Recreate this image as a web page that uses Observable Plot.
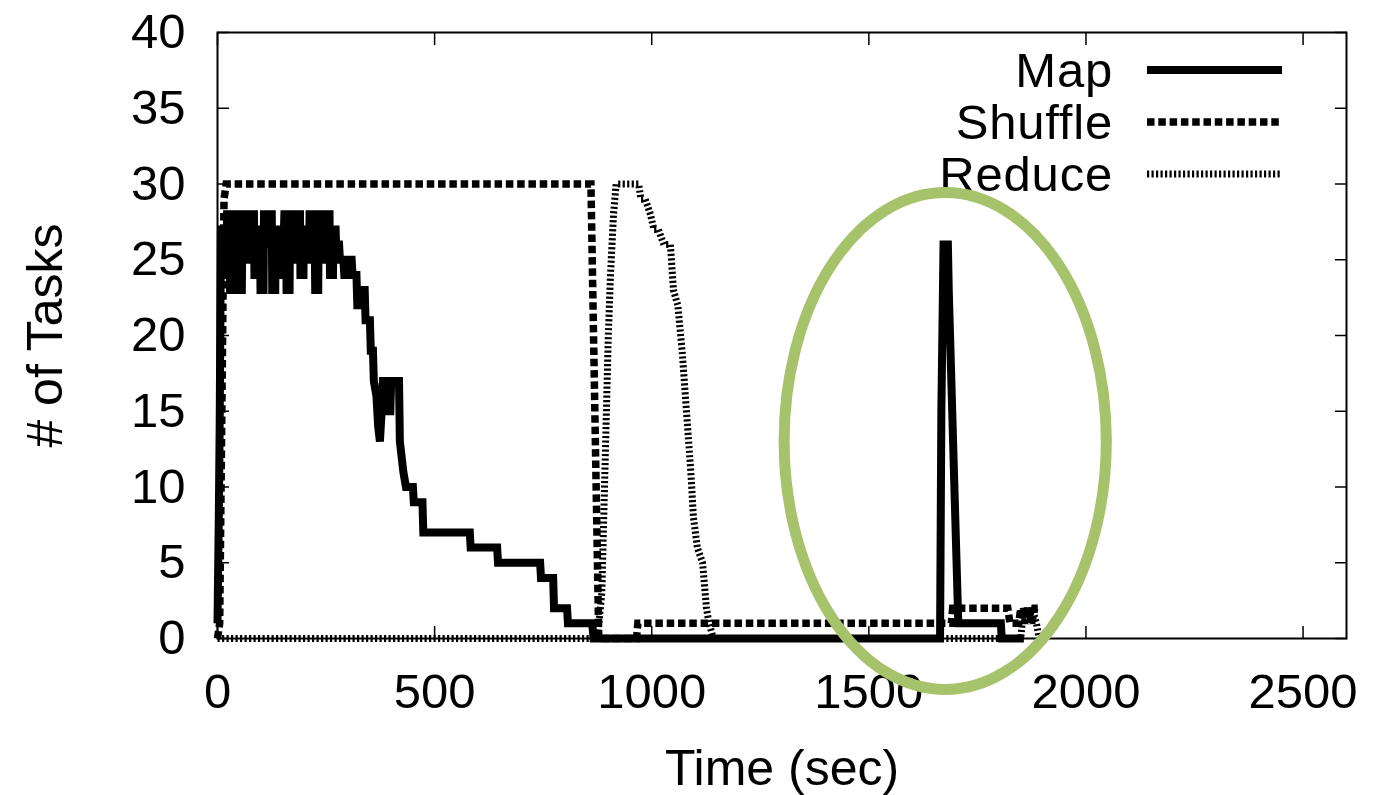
<!DOCTYPE html>
<html>
<head>
<meta charset="utf-8">
<script src="https://cdn.jsdelivr.net/npm/d3@7"></script>
<script src="https://cdn.jsdelivr.net/npm/@observablehq/plot@0.6"></script>
<style>
  html, body { margin: 0; padding: 0; background: #fff; }
  #chart { width: 1374px; height: 795px; }
</style>
</head>
<body>
<div id="chart"></div>
<script>
// ---- data ----
const xTicks = [0, 500, 1000, 1500, 2000, 2500];
const yTicks = [0, 5, 10, 15, 20, 25, 30, 35, 40];
const seriesNames = ["Map", "Shuffle", "Reduce"];

const mapT = [0, 3, 5, 8, 14, 15, 21, 22, 28, 29, 36, 37, 42, 43, 48, 49, 56, 57, 62, 63, 70, 71, 76, 77, 84, 85, 92, 93, 98, 99, 106, 107, 113, 114, 120, 121, 125, 126, 133, 134, 140, 141, 147, 148, 153, 154, 158, 159, 166, 167, 172, 173, 178, 179, 185, 186, 190, 191, 198, 199, 205, 206, 211, 212, 218, 219, 224, 225, 232, 233, 239, 240, 246, 247, 252, 253, 258, 259, 266, 267, 272, 273, 280,
  282, 290, 292, 300, 302, 309, 311, 320, 322, 330, 332, 339, 341, 351, 353, 358, 360, 366, 370, 374, 378, 381, 390, 392, 398, 400, 418, 420, 428, 434, 450, 452, 472, 474, 581, 583, 644, 646, 743, 745, 773, 775, 805, 807, 863, 866,
  1664, 1667, 1672, 1682, 1684, 1706, 1804, 1806, 1857];
const mapV = [1, 8, 14, 27, 27, 24, 24, 28, 28, 23, 23, 27, 27, 28, 28, 23, 23, 26, 26, 28, 28, 25, 25, 28, 28, 24, 24, 27, 27, 23, 23, 28, 28, 26, 26, 28, 28, 23, 23, 27, 27, 24, 24, 27, 27, 28, 28, 23, 23, 28, 28, 25, 25, 27, 27, 28, 28, 24, 24, 27, 27, 25, 25, 28, 28, 26, 26, 23, 23, 28, 28, 25, 25, 27, 27, 28, 28, 24, 24, 27, 27, 26, 26,
  25, 25, 24, 24, 25, 25, 24, 24, 22, 22, 23, 23, 21, 21, 19, 19, 17, 16, 14, 13, 15, 17, 17, 15, 15, 17, 17, 13, 11, 10, 10, 9, 9, 7, 7, 6, 6, 5, 5, 4, 4, 2, 2, 1, 1, 0,
  0, 15, 26, 26, 23, 1, 1, 0, 0];

const shuffleT = [0, 5, 10, 15, 20, 860, 866, 872, 878, 965, 968, 1690, 1693, 1820, 1825, 1845, 1850, 1858, 1866, 1875, 1882, 1890];
const shuffleV = [0, 1, 15, 29, 30, 30, 20, 10, 0, 0, 1, 1, 2, 2, 1, 1, 2, 1, 2, 1, 2, 2];

const reduceT = [0, 875, 885, 893, 900, 905, 912, 918, 970, 975, 985, 997, 1005, 1015, 1028, 1043, 1050, 1060, 1070, 1080, 1090, 1096, 1105, 1117, 1126, 1132, 1142, 1850, 1856, 1866, 1876, 1886, 1892];
const reduceV = [0, 0, 3, 12, 20, 24, 28, 30, 30, 29, 29, 28, 27, 27, 26, 26, 23, 22, 19, 15, 11, 8, 6, 5, 2, 1, 0, 0, 2, 1, 2, 1, 0];

// highlight ellipse annotation (data units)
const ellipseCenterT = 1677, ellipseCenterV = 13;
const ellipseRadiusT = 371, ellipseRadiusV = 16.4;

// ---- build records ----
const toRows = (T, V) => T.map((t, i) => ({t, v: V[i]}));
const mapRows = toRows(mapT, mapV);
const shuffleRows = toRows(shuffleT, shuffleV);
const reduceRows = toRows(reduceT, reduceV);

const styles = {
  Map: {strokeWidth: 8, dash: null},
  Shuffle: {strokeWidth: 7.5, dash: "7.5,3.8"},
  Reduce: {strokeWidth: 7, dash: "2.2,2.3"}
};

const font = "'Liberation Sans', Arial, Helvetica, sans-serif";
const lineOpts = (name) => ({
  x: "t", y: "v", stroke: "#000",
  strokeWidth: styles[name].strokeWidth,
  strokeDasharray: styles[name].dash || undefined,
  strokeLinejoin: "miter", strokeMiterlimit: 2, strokeLinecap: "butt"
});

const plot = Plot.plot({
  width: 1374,
  height: 795,
  marginLeft: 217,
  marginRight: 28,
  marginTop: 32,
  marginBottom: 157,
  style: {fontFamily: font, fontSize: "48px", color: "#000", background: "#fff", overflow: "visible"},
  x: {domain: [0, 2600]},
  y: {domain: [0, 40]},
  marks: [
    Plot.line(mapRows, lineOpts("Map")),
    Plot.line(shuffleRows, lineOpts("Shuffle")),
    Plot.line(reduceRows, lineOpts("Reduce")),
    Plot.frame({stroke: "#000", strokeWidth: 2}),
    Plot.axisX({anchor: "bottom", ticks: xTicks, tickSize: -12, tickPadding: 47, tickFormat: d => String(d), label: null, fontSize: 49, strokeWidth: 1.5}),
    Plot.axisX({anchor: "top", ticks: xTicks, tickSize: -12, tickFormat: () => "", label: null, strokeWidth: 1.5}),
    Plot.axisY({anchor: "left", ticks: yTicks, tickSize: -12, tickPadding: 44, tickFormat: d => String(d), label: null, fontSize: 49, strokeWidth: 1.5}),
    Plot.axisY({anchor: "right", ticks: yTicks, tickSize: -12, tickFormat: () => "", label: null, strokeWidth: 1.5}),
    Plot.text(["Time (sec)"], {frameAnchor: "bottom", dy: 130, lineAnchor: "middle", textAnchor: "middle", fontSize: 50, fill: "#000"}),
    Plot.text(["# of Tasks"], {frameAnchor: "left", dx: -172, rotate: -90, lineAnchor: "middle", textAnchor: "middle", fontSize: 50, fill: "#000"})
  ]
});

document.getElementById("chart").appendChild(plot);

// ---- annotations drawn using the plot's scales ----
const sx = plot.scale("x"), sy = plot.scale("y");
const svg = d3.select(plot);

// legend (gnuplot-style, inside top-right)
const legendRight = sx.apply(2600) - 233;
const legendSampleX1 = legendRight + 34, legendSampleX2 = legendRight + 169;
const legendG = svg.append("g").attr("font-family", font).attr("font-size", 49).attr("letter-spacing", "0.8px");
seriesNames.forEach((name, i) => {
  const baseline = sy.apply(40) + 55 + i * 52;
  legendG.append("text")
    .attr("x", legendRight).attr("y", baseline)
    .attr("text-anchor", "end").attr("fill", "#000").text(name);
  legendG.append("line")
    .attr("x1", legendSampleX1).attr("x2", legendSampleX2)
    .attr("y1", baseline - 17).attr("y2", baseline - 17)
    .attr("stroke", "#000")
    .attr("stroke-width", styles[name].strokeWidth)
    .attr("stroke-dasharray", styles[name].dash);
});

// green highlight ellipse
const cx = sx.apply(ellipseCenterT), cy = sy.apply(ellipseCenterV);
const rx = sx.apply(ellipseCenterT + ellipseRadiusT) - cx;
const ry = sy.apply(ellipseCenterV) - sy.apply(ellipseCenterV + ellipseRadiusV);
svg.append("ellipse")
  .attr("cx", cx).attr("cy", cy).attr("rx", rx).attr("ry", ry)
  .attr("fill", "none").attr("stroke", "#a6c36b").attr("stroke-width", 11);
</script>
</body>
</html>
